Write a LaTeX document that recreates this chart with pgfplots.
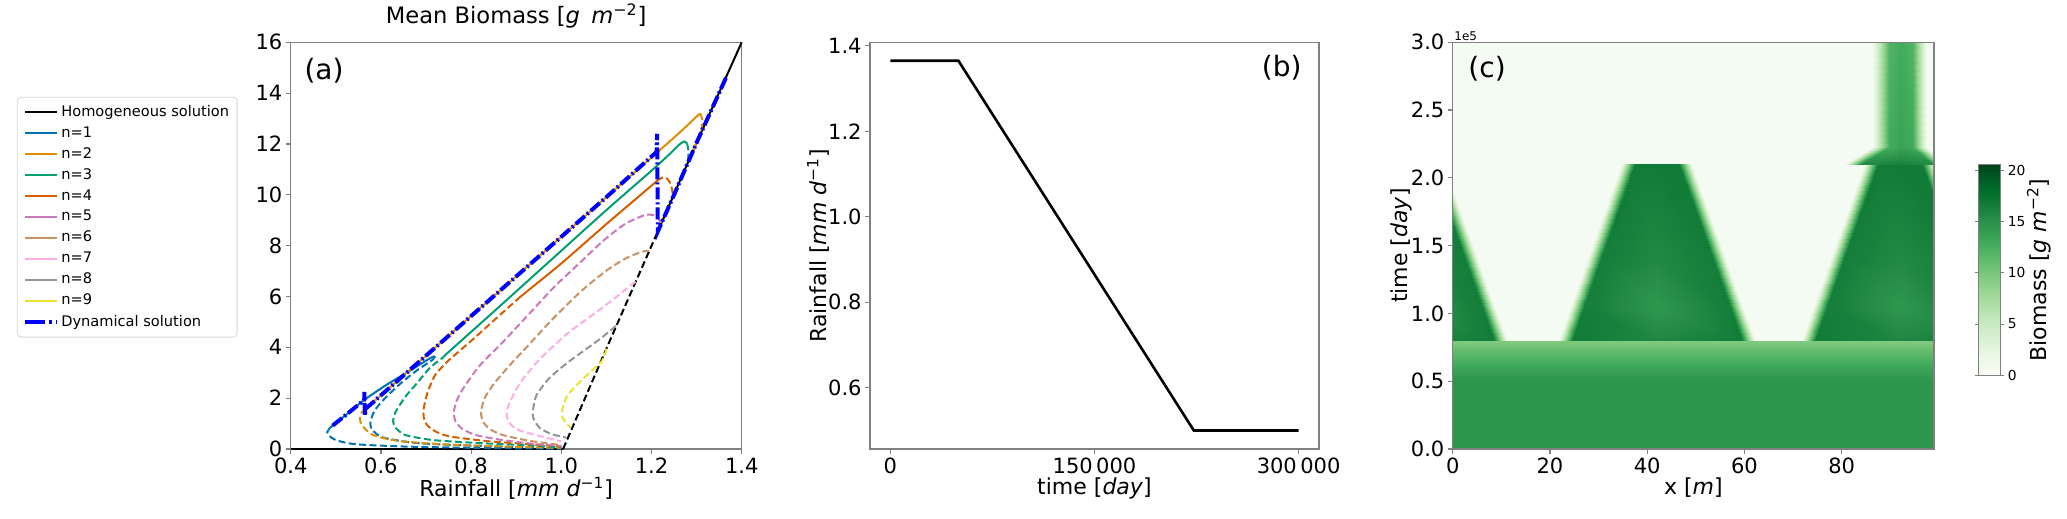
\documentclass[border=0pt]{standalone}
\usepackage{fontspec}
\setmainfont{DejaVu Sans}
\usepackage{pgfplots}
\pgfplotsset{compat=1.18}
\usepgfplotslibrary{patchplots}
\usetikzlibrary{calc}

\definecolor{c1}{HTML}{0173B2}
\definecolor{c2}{HTML}{DE8F05}
\definecolor{c3}{HTML}{029E73}
\definecolor{c4}{HTML}{D55E00}
\definecolor{c5}{HTML}{CC78BC}
\definecolor{c6}{HTML}{CA9161}
\definecolor{c7}{HTML}{FBAFE4}
\definecolor{c8}{HTML}{949494}
\definecolor{c9}{HTML}{ECE133}
\definecolor{spine}{HTML}{808080}

\pgfplotsset{
  colormap={greens}{rgb255=(247,252,245) rgb255=(229,245,224) rgb255=(199,233,192) rgb255=(161,217,155) rgb255=(116,196,118) rgb255=(65,171,93) rgb255=(35,139,69) rgb255=(0,109,44) rgb255=(0,68,27)},
  myax/.style={scale only axis, axis line style={spine,line width=0.6pt},
    tick style={spine,line width=0.6pt}, tick align=outside, major tick length=2.5pt,
    tick pos=left, tick label style={font=\fontsize{10.5}{12}\selectfont},
    xticklabel style={inner sep=2pt}, yticklabel style={inner sep=1.5pt},
    label style={font=\fontsize{11}{13}\selectfont},
    xlabel shift=-3.8pt, ylabel shift=-5.5pt,
    title style={font=\fontsize{11.3}{13}\selectfont}},
  sol/.style={line width=1pt, smooth, tension=0.4},
  dsh/.style={line width=1pt, smooth, tension=0.4, dash pattern=on 3.5pt off 1.7pt},
}

\begin{document}
\begin{tikzpicture}
\path[use as bounding box] (0,0) rectangle (1033.5pt,259.5pt);

% ---------------- panel (a)
\begin{axis}[myax, at={(145.35pt,35pt)}, anchor=south west,
  width=225.5pt, height=203.35pt,
  xmin=0.4, xmax=1.4, ymin=0, ymax=16, clip=false,
  xtick={0.4,0.6,0.8,1.0,1.2,1.4}, xticklabels={0.4,0.6,0.8,1.0,1.2,1.4},
  ytick={0,2,4,6,8,10,12,14,16}, yticklabels={0,2,4,6,8,10,12,14,16},
  title={Mean Biomass [\textit{g}\enspace\textit{m}\textsuperscript{−2}]},
  title style={yshift=-2.5pt},
  xlabel={Rainfall [\textit{mm d}\textsuperscript{−1}]},
  legend cell align=left,
  legend style={at={(-0.607,0.866)}, anchor=north west,
    draw={rgb,255:red,214;green,214;blue,214}, rounded corners=2pt,
    font=\fontsize{7.3}{8.5}\selectfont, row sep=1.6pt,
    nodes={inner sep=1pt}, inner xsep=3pt, inner ysep=3pt},
  legend image code/.code={\draw[#1] (0pt,0pt) -- (16pt,0pt);},
]
\addlegendimage{black, line width=1pt}\addlegendentry{Homogeneous solution}
\addlegendimage{c1, line width=1pt}\addlegendentry{n=1}
\addlegendimage{c2, line width=1pt}\addlegendentry{n=2}
\addlegendimage{c3, line width=1pt}\addlegendentry{n=3}
\addlegendimage{c4, line width=1pt}\addlegendentry{n=4}
\addlegendimage{c5, line width=1pt}\addlegendentry{n=5}
\addlegendimage{c6, line width=1pt}\addlegendentry{n=6}
\addlegendimage{c7, line width=1pt}\addlegendentry{n=7}
\addlegendimage{c8, line width=1pt}\addlegendentry{n=8}
\addlegendimage{c9, line width=1pt}\addlegendentry{n=9}
\addlegendimage{blue, line width=2pt, dash pattern=on 10pt off 2pt on 1.5pt off 2pt}\addlegendentry{Dynamical solution}

% homogeneous
\addplot[black, line width=1pt, forget plot] coordinates {(0.4,0)(1.004,0)};
\addplot[black, line width=1pt, dash pattern=on 3.5pt off 1.7pt, forget plot] coordinates {(1.004,0)(1.1,3.95)(1.215,8.6)};
\addplot[black, line width=1pt, forget plot] coordinates {(1.215,8.6)(1.3,12.05)(1.4,16)};
% n=1
\addplot[c1, sol, forget plot] coordinates {(0.488,0.85)(0.528,1.42)(0.563,1.93)(0.612,2.52)(0.668,3.12)(0.695,3.42)(0.712,3.6)(0.72,3.65)};
\addplot[c1, dsh, forget plot] coordinates {(0.72,3.65)(0.714,3.5)(0.682,3.12)(0.647,2.63)(0.612,2.05)(0.587,1.54)(0.577,1.09)(0.58,0.77)(0.605,0.45)(0.682,0.23)(0.821,0.12)(1.0,0.03)};
\addplot[c1, dsh, forget plot] coordinates {(0.488,0.85)(0.481,0.66)(0.486,0.51)(0.5,0.35)(0.542,0.19)(0.647,0.10)(0.786,0.05)(1.0,0.01)};
% n=2
\addplot[c2, sol, forget plot] coordinates {(0.566,1.6)(0.577,1.75)(0.6,2.11)(0.7,3.67)(0.8,5.23)(0.9,6.79)(1.0,8.35)(1.1,9.91)(1.2,11.47)(1.25,12.25)(1.28,12.74)(1.3,13.08)(1.308,13.2)};
\addplot[c2, dsh, forget plot] coordinates {(1.308,13.2)(1.312,13.0)(1.311,12.6)(1.302,12.15)(1.286,11.45)};
\addplot[c2, dsh, forget plot] coordinates {(0.566,1.6)(0.558,1.45)(0.554,1.25)(0.555,1.05)(0.563,0.83)(0.577,0.6)(0.6,0.45)(0.647,0.3)(0.751,0.17)(0.891,0.09)(1.0,0.04)};
% n=3
\addplot[c3, sol, forget plot] coordinates {(0.744,3.72)(0.85,5.4)(1.0,7.8)(1.1,9.4)(1.2,10.95)(1.24,11.6)(1.26,11.95)(1.272,12.1)(1.279,12.02)};
\addplot[c3, dsh, forget plot] coordinates {(1.279,12.02)(1.282,11.7)(1.281,11.35)};
\addplot[c3, dsh, forget plot] coordinates {(0.744,3.72)(0.737,3.59)(0.709,3.2)(0.682,2.63)(0.654,2.05)(0.633,1.47)(0.627,1.09)(0.633,0.83)(0.654,0.55)(0.716,0.35)(0.821,0.23)(0.925,0.15)(1.0,0.06)};
% n=4
\addplot[c4, sol, forget plot] coordinates {(0.91,6.0)(1.0,7.3)(1.1,8.85)(1.2046,10.43)(1.212,10.55)};
\addplot[c4, dsh, forget plot] coordinates {(1.212,10.55)(1.222,10.66)(1.232,10.68)(1.242,10.45)(1.246,10.17)(1.248,9.95)};
\addplot[c4, dsh, forget plot] coordinates {(0.91,6.0)(0.85,5.05)(0.80,4.25)(0.751,3.5)(0.72,2.9)(0.703,2.2)(0.695,1.6)(0.695,1.25)(0.702,0.95)(0.72,0.7)(0.751,0.5)(0.83,0.32)(0.92,0.2)(1.0,0.1)};
% n=5
\addplot[c5, dsh, forget plot] coordinates {(1.222,8.9)(1.215,9.06)(1.204,9.2)(1.19,9.22)(1.177,9.15)(1.142,8.86)(1.094,8.21)(1.039,7.29)(0.984,6.37)(0.92,5.15)(0.87,4.2)(0.82,3.3)(0.785,2.45)(0.768,1.9)(0.762,1.47)(0.765,1.1)(0.78,0.8)(0.81,0.55)(0.87,0.35)(0.94,0.2)(1.0,0.12)};
% n=6
\addplot[c6, dsh, forget plot] coordinates {(1.195,7.8)(1.177,7.75)(1.142,7.49)(1.101,7.03)(1.046,6.24)(0.98,5.1)(0.925,4.04)(0.891,3.4)(0.852,2.6)(0.83,2.0)(0.822,1.45)(0.826,1.1)(0.84,0.8)(0.87,0.55)(0.93,0.32)(1.0,0.15)};
% n=7
\addplot[c7, dsh, forget plot] coordinates {(1.165,6.58)(1.155,6.45)(1.12,5.95)(1.083,5.45)(1.014,4.55)(0.952,3.53)(0.91,2.63)(0.89,2.0)(0.879,1.5)(0.882,1.1)(0.895,0.85)(0.91,0.71)(0.952,0.51)(1.0,0.3)};
% n=8
\addplot[c8, dsh, forget plot] coordinates {(1.121,4.84)(1.083,4.29)(1.014,3.40)(0.972,2.76)(0.945,2.12)(0.938,1.60)(0.938,1.22)(0.952,0.83)(0.979,0.58)(1.011,0.45)};
% n=9
\addplot[c9, dsh, forget plot] coordinates {(1.10,3.95)(1.09,3.46)(1.048,2.76)(1.014,2.12)(1.003,1.60)(1.003,1.22)(1.021,0.83)};
% dynamical solution
\addplot[blue, line width=2pt, dash pattern=on 6pt off 1.5pt on 1pt off 1.5pt, forget plot] coordinates {(1.365,14.6)(1.3,12.05)(1.25,10.0)(1.214,8.56)(1.2125,12.4)(1.211,11.68)(1.1,9.91)(1.0,8.35)(0.9,6.79)(0.8,5.23)(0.7,3.67)(0.6,2.11)(0.577,1.75)(0.566,1.58)(0.5645,1.3)(0.5635,2.25)(0.563,1.93)(0.528,1.42)(0.488,0.85)};
\node[anchor=west, font=\fontsize{14}{16}\selectfont] at (rel axis cs:0.015,0.93) {(a)};
\end{axis}

% ---------------- panel (b)
\begin{axis}[myax, at={(435pt,35pt)}, anchor=south west,
  width=224.5pt, height=203.35pt,
  xmin=-15000, xmax=315000, ymin=0.45675, ymax=1.40825, scaled x ticks=false,
  xtick={0,150000,300000}, xticklabels={0,150\,000,300\,000},
  ytick={0.6,0.8,1.0,1.2,1.4}, yticklabels={0.6,0.8,1.0,1.2,1.4},
  xlabel={time [\textit{day}]}, ylabel={Rainfall [\textit{mm d}\textsuperscript{−1}]},
]
\addplot[black, line width=1.3pt] coordinates {(0,1.365)(50000,1.365)(223000,0.5)(300000,0.5)};
\node[anchor=east, font=\fontsize{14}{16}\selectfont] at (rel axis cs:0.977,0.937) {(b)};
\end{axis}

% ---------------- panel (c)
\begin{axis}[myax, at={(726.35pt,35pt)}, anchor=south west,
  width=240.65pt, height=203.35pt,
  xmin=0, xmax=99, ymin=0, ymax=3, axis on top,
  xtick={0,20,40,60,80}, xticklabels={0,20,40,60,80},
  ytick={0,0.5,1,1.5,2,2.5,3}, yticklabels={0.0,0.5,1.0,1.5,2.0,2.5,3.0},
  xlabel={x [\textit{m}]}, ylabel={time [\textit{day}]},
  colormap name=greens, point meta min=0, point meta max=20.6,
  colorbar,
  colorbar style={at={($(parent axis.south east)+(13.85pt,37pt)$)}, anchor=south west,
    width=10.8pt, height=105.5pt, scale only axis,
    ytick={0,5,10,15,20}, yticklabels={0,5,10,15,20},
    yticklabel style={font=\fontsize{6.9}{8}\selectfont, inner sep=1.5pt},
    axis line style={spine}, tick style={spine}, tick align=outside, major tick length=2pt},
]
% background
\addplot[patch, patch type=rectangle, shader=interp, point meta=explicit] table[meta=c, row sep=\\] {
x y c\\
0 0 0.4\\ 99 0 0.4\\ 99 3 0.4\\ 0 3 0.4\\
};
% bottom band
\addplot[patch, patch type=rectangle, shader=interp, point meta=explicit] table[meta=c, row sep=\\] {
x y c\\
0 0 14.6\\ 99 0 14.6\\ 99 0.5 14.6\\ 0 0.5 14.6\\
0 0.5 14.6\\ 99 0.5 14.6\\ 99 0.6 13.4\\ 0 0.6 13.4\\
0 0.6 13.4\\ 99 0.6 13.4\\ 99 0.7 11.6\\ 0 0.7 11.6\\
0 0.7 11.6\\ 99 0.7 11.6\\ 99 0.8 9.6\\ 0 0.8 9.6\\
};
% triangles
\addplot[patch, patch type=rectangle, shader=interp, point meta=explicit] table[meta=c, row sep=\\] {
x y c\\
21.7 0.8 0.4\\ 24.5 0.8 16.8\\ 27 1.05 16.6\\ 24.2 1.05 0.4\\
24.5 0.8 16.8\\ 42 0.8 15.8\\ 42 1.05 14.4\\ 27 1.05 16.6\\
42 0.8 15.8\\ 59.5 0.8 16.8\\ 57 1.05 16.6\\ 42 1.05 14.4\\
59.5 0.8 16.8\\ 62.3 0.8 0.4\\ 59.8 1.05 0.4\\ 57 1.05 16.6\\
24.2 1.05 0.4\\ 27 1.05 16.6\\ 30.5 1.4 16.6\\ 27.7 1.4 0.4\\
27 1.05 16.6\\ 42 1.05 14.4\\ 42 1.4 15.6\\ 30.5 1.4 16.6\\
42 1.05 14.4\\ 57 1.05 16.6\\ 53.5 1.4 16.6\\ 42 1.4 15.6\\
57 1.05 16.6\\ 59.8 1.05 0.4\\ 56.3 1.4 0.4\\ 53.5 1.4 16.6\\
27.7 1.4 0.4\\ 30.5 1.4 16.6\\ 37.5 2.1 16.8\\ 34.7 2.1 0.4\\
30.5 1.4 16.6\\ 42 1.4 15.6\\ 42 2.1 16.8\\ 37.5 2.1 16.8\\
42 1.4 15.6\\ 53.5 1.4 16.6\\ 46.5 2.1 16.8\\ 42 2.1 16.8\\
53.5 1.4 16.6\\ 56.3 1.4 0.4\\ 49.3 2.1 0.4\\ 46.5 2.1 16.8\\
71.7 0.8 0.4\\ 74.5 0.8 16.8\\ 77 1.05 16.6\\ 74.2 1.05 0.4\\
74.5 0.8 16.8\\ 92 0.8 15.8\\ 92 1.05 14.4\\ 77 1.05 16.6\\
92 0.8 15.8\\ 109.5 0.8 16.8\\ 107 1.05 16.6\\ 92 1.05 14.4\\
74.2 1.05 0.4\\ 77 1.05 16.6\\ 80.5 1.4 16.6\\ 77.7 1.4 0.4\\
77 1.05 16.6\\ 92 1.05 14.4\\ 92 1.4 15.6\\ 80.5 1.4 16.6\\
92 1.05 14.4\\ 107 1.05 16.6\\ 103.5 1.4 16.6\\ 92 1.4 15.6\\
77.7 1.4 0.4\\ 80.5 1.4 16.6\\ 87.5 2.1 16.8\\ 84.7 2.1 0.4\\
80.5 1.4 16.6\\ 92 1.4 15.6\\ 92 2.1 16.8\\ 87.5 2.1 16.8\\
92 1.4 15.6\\ 103.5 1.4 16.6\\ 96.5 2.1 16.8\\ 92 2.1 16.8\\
103.5 1.4 16.6\\ 106.3 1.4 0.4\\ 99.3 2.1 0.4\\ 96.5 2.1 16.8\\
-9 0.8 15.8\\ 8.5 0.8 16.8\\ 6 1.05 16.6\\ -9 1.05 14.4\\
8.5 0.8 16.8\\ 11.3 0.8 0.4\\ 8.8 1.05 0.4\\ 6 1.05 16.6\\
-9 1.05 14.4\\ 6 1.05 16.6\\ 2.5 1.4 16.6\\ -9 1.4 15.6\\
6 1.05 16.6\\ 8.8 1.05 0.4\\ 5.3 1.4 0.4\\ 2.5 1.4 16.6\\
-9 1.4 15.6\\ 2.5 1.4 16.6\\ -4.5 2.1 16.8\\ -9 2.1 16.8\\
2.5 1.4 16.6\\ 5.3 1.4 0.4\\ -1.7 2.1 0.4\\ -4.5 2.1 16.8\\
};
% top stripe
\addplot[patch, patch type=rectangle, shader=interp, point meta=explicit] table[meta=c, row sep=\\] {
x y c\\
80.5 2.1 0.4\\ 84 2.1 15.5\\ 89.8 2.23 12.8\\ 86.3 2.23 0.4\\
84 2.1 15.5\\ 92 2.1 16.2\\ 92.2 2.23 13.6\\ 89.8 2.23 12.8\\
92 2.1 16.2\\ 98.5 2.1 15.5\\ 94.6 2.23 12.8\\ 92.2 2.23 13.6\\
98.5 2.1 15.5\\ 102 2.1 0.4\\ 97.5 2.23 0.4\\ 94.6 2.23 12.8\\
86.3 2.23 0.4\\ 89.8 2.23 12.8\\ 89.8 3 12.0\\ 86.3 3 0.4\\
89.8 2.23 12.8\\ 92.2 2.23 13.6\\ 92.2 3 12.8\\ 89.8 3 12.0\\
92.2 2.23 13.6\\ 94.6 2.23 12.8\\ 94.6 3 12.0\\ 92.2 3 12.8\\
94.6 2.23 12.8\\ 97.5 2.23 0.4\\ 97.5 3 0.4\\ 94.6 3 12.0\\
};
\node[anchor=west, font=\fontsize{14}{16}\selectfont] at (rel axis cs:0.018,0.934) {(c)};
\end{axis}
\node[anchor=south west, inner sep=0pt, font=\fontsize{6}{7}\selectfont] at (727pt,239pt) {1e5};
\node[rotate=90, font=\fontsize{11}{13}\selectfont] at (1019.5pt,124.5pt) {Biomass [\textit{g m}\textsuperscript{−2}]};
\end{tikzpicture}
\end{document}
